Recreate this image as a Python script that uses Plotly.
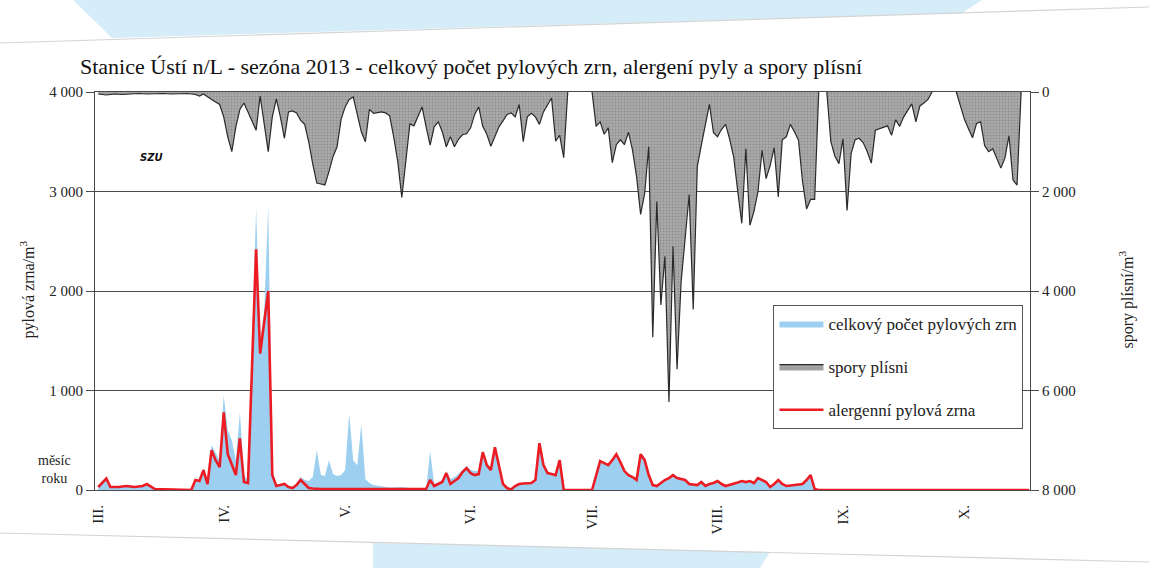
import pandas as pd
import plotly.graph_objects as go

# ---------------------------------------------------------------- data
season_start = "2013-03-01"
axis_days = (-0.8, 230.2)          # visible span, days after 1 March

month_starts = ["2013-03-01", "2013-04-01", "2013-05-01", "2013-06-01",
                "2013-07-01", "2013-08-01", "2013-09-01", "2013-10-01"]
month_labels = ["III.", "IV.", "V.", "VI.", "VII.", "VIII.", "IX.", "X."]

# pollen, days after 1 March
pollen_day = [0, 2, 3, 5, 7, 9, 11, 12, 14, 23, 24, 25, 26, 27, 28, 29, 30, 31, 32, 33,
              34, 35, 36, 37, 38, 39, 40, 41, 42, 43, 44, 45, 46, 47, 48, 49, 50, 51, 52, 53,
              54, 55, 56, 57, 58, 59, 60, 61, 62, 63, 64, 65, 66, 67, 68, 70, 72, 75, 78, 81,
              82, 83, 84, 85, 86, 87, 88, 89, 90, 91, 92, 93, 94, 95, 96, 97, 98, 99, 100, 101,
              102, 103, 104, 105, 106, 107, 108, 109, 110, 111, 112, 113, 114, 115, 122, 123, 124, 125, 126, 127,
              128, 129, 130, 131, 132, 133, 134, 135, 136, 137, 138, 139, 140, 141, 142, 143, 144, 145, 146, 147,
              148, 149, 150, 151, 152, 153, 154, 155, 156, 157, 158, 159, 160, 161, 162, 163, 164, 165, 166, 167,
              168, 169, 170, 171, 172, 173, 174, 175, 176, 177, 178, 230]
pollen_allergenic = [30, 115, 30, 30, 40, 30, 40, 60, 10, 0, 100, 90, 200, 60, 400, 300, 230, 780, 360, 260,
                     150, 520, 80, 70, 1300, 2420, 1370, 1700, 2000, 150, 40, 50, 60, 30, 20, 50, 100, 60, 20, 15,
                     10, 10, 10, 10, 10, 10, 10, 10, 10, 10, 10, 10, 10, 10, 10, 10, 10, 10, 10, 10,
                     100, 40, 60, 80, 170, 60, 90, 120, 180, 220, 170, 150, 160, 380, 250, 200, 430, 250, 60, 20,
                     5, 40, 60, 65, 65, 70, 100, 470, 250, 170, 160, 150, 300, 0, 0, 150, 290, 270, 250, 300,
                     360, 280, 190, 150, 130, 100, 360, 300, 150, 50, 40, 70, 100, 120, 150, 120, 110, 100, 60, 55,
                     50, 80, 40, 60, 70, 90, 60, 40, 50, 60, 75, 90, 80, 90, 70, 120, 100, 80, 30, 60,
                     100, 60, 40, 45, 50, 55, 60, 100, 150, 10, 0, 0]
pollen_total = [30, 120, 35, 35, 45, 35, 45, 65, 10, 0, 110, 100, 220, 80, 450, 380, 300, 950, 600, 500,
                300, 780, 150, 100, 1400, 2830, 1500, 1800, 2850, 200, 60, 55, 70, 40, 30, 70, 130, 100, 90, 130,
                400, 150, 140, 300, 160, 140, 150, 200, 770, 300, 250, 660, 110, 70, 50, 40, 25, 30, 15, 10,
                390, 60, 80, 100, 190, 110, 130, 160, 200, 240, 200, 190, 190, 400, 270, 220, 440, 260, 70, 25,
                10, 45, 65, 70, 70, 75, 110, 480, 260, 180, 170, 160, 310, 0, 0, 160, 300, 280, 260, 310,
                370, 290, 200, 160, 140, 110, 370, 310, 160, 60, 50, 80, 110, 130, 160, 130, 120, 110, 70, 60,
                55, 85, 45, 65, 75, 95, 65, 45, 55, 65, 80, 95, 85, 95, 75, 125, 105, 85, 35, 65,
                105, 65, 45, 50, 55, 60, 65, 105, 155, 10, 0, 0]

# mould spores, days after 1 March (None = no sampling)
spore_day = [0, 2, 4, 6, 8, 10, 12, 14, 16, 18, 20, 22, 24, 25, 26, 27, 28, 29, 30, 31,
             32, 33, 34, 35, 36, 37, 38, 39, 40, 41, 42, 43, 44, 45, 46, 47, 48, 49, 50, 51,
             52, 53, 54, 55, 56, 57, 58, 59, 60, 61, 62, 63, 64, 65, 66, 67, 68, 69, 70, 71,
             72, 73, 74, 75, 76, 77, 78, 79, 80, 81, 82, 83, 84, 85, 86, 87, 88, 89, 90, 91,
             92, 93, 94, 95, 96, 97, 98, 99, 100, 101, 102, 103, 104, 105, 106, 107, 108, 109, 110, 111,
             112, 113, 114, 115, 116, 117, 122, 123, 124, 125, 126, 127, 128, 129, 130, 131, 132, 133, 134, 135,
             136, 137, 138, 139, 140, 141, 142, 143, 144, 145, 146, 147, 148, 149, 150, 151, 152, 153, 154, 155,
             156, 157, 158, 159, 160, 161, 162, 163, 164, 165, 166, 167, 168, 169, 170, 171, 172, 173, 174, 175,
             176, 177, 178, 179, 180, 181, 182, 183, 184, 185, 186, 187, 188, 189, 190, 191, 192, 193, 194, 195,
             196, 197, 198, 199, 200, 201, 202, 203, 204, 205, 206, 207, 212, 213, 214, 215, 216, 217, 218, 219,
             220, 221, 222, 223, 224, 225, 226, 227, 228]
spore_count = [40, 60, 40, 50, 40, 30, 40, 30, 30, 40, 30, 30, 50, 80, 40, 100, 150, 200, 250, 500,
               900, 1200, 700, 350, 220, 400, 600, 770, 80, 600, 1200, 500, 140, 500, 930, 400, 380, 420, 570, 650,
               1000, 1450, 1830, 1850, 1870, 1600, 1300, 1100, 550, 300, 150, 100, 450, 800, 1000, 350, 430, 420, 400, 420,
               480, 900, 1400, 2120, 1400, 640, 680, 500, 300, 700, 1070, 700, 600, 800, 1100, 900, 1100, 950, 860, 840,
               720, 450, 300, 690, 850, 1090, 900, 700, 580, 450, 420, 500, 250, 1000, 500, 430, 500, 650, 400, 250,
               120, 990, 870, 1320, 0, None, 0, 690, 600, 850, 720, 1420, 1060, 960, 1060, 810, 1170, 1700, 2460, 2040,
               1100, 4930, 2200, 4280, 3300, 6230, 3100, 5570, 3820, 3000, 2060, 4370, 1500, 1070, 620, 250, 820, 900, 750, 650,
               950, 1310, 2000, 2640, 1140, 2680, 2400, 2000, 1170, 1740, 1480, 1120, 2110, 960, 900, 650, 800, 970, 1800, 2350,
               2160, 2160, 0, None, 0, 1000, 1290, 1440, 940, 2380, 1240, 960, 930, 1020, 1200, 1430, 770, 740, 710, 680,
               870, 560, 690, 500, 370, 240, 600, 280, 220, 150, 0, None, 0, 300, 550, 740, 920, 630, 600, 1080,
               1200, 1140, 1350, 1530, 1330, 880, 1770, 1870, 0]

pollen_ticks = [0, 1000, 2000, 3000, 4000]
spore_ticks = [0, 2000, 4000, 6000, 8000]

# ---------------------------------------------------------------- helpers
FONT = "Liberation Serif"
W, H = 1149, 568
M = dict(l=95, r=119, t=92, b=78)


def thousands(v):
    return f"{v:,}".replace(",", " ")


def as_dates(days):
    return pd.Timestamp(season_start) + pd.to_timedelta(days, unit="D")


def to_paper(x, y):
    """page pixel position -> paper coordinates of the plot area"""
    pw = W - M["l"] - M["r"]
    ph = H - M["t"] - M["b"]
    return (x - M["l"]) / pw, (H - M["b"] - y) / ph


def poly(points):
    pts = [to_paper(x, y) for x, y in points]
    return "M " + " L ".join(f"{px:.4f},{py:.4f}" for px, py in pts) + " Z"


pollen_x = as_dates(pollen_day)
spore_x = as_dates(spore_day)

fig = go.Figure()

fig.add_trace(go.Scatter(
    x=pollen_x, y=pollen_total, name="celkový počet pylových zrn",
    mode="lines", line=dict(width=0, color="#9dd0f0"),
    fill="tozeroy", fillcolor="#9dd0f0",
    legendgroup="a", hoverinfo="skip"))

fig.add_trace(go.Scatter(
    x=spore_x, y=spore_count, name="spory plísni", yaxis="y2",
    mode="lines", line=dict(width=1.2, color="#2a2a2a"),
    fill="tozeroy", fillcolor="#a3a3a3",
    fillpattern=dict(shape=".", bgcolor="#aaaaaa", fgcolor="#727272",
                     size=3, solidity=0.3),
    connectgaps=False, legendgroup="b", hoverinfo="skip"))

fig.add_trace(go.Scatter(
    x=pollen_x, y=pollen_allergenic, name="alergenní pylová zrna",
    mode="lines", line=dict(width=2.6, color="#ec1c24"),
    legendgroup="c", hoverinfo="skip"))

axis_col = "#4a4a4a"
tick_font = dict(family=FONT, size=15, color="#222")

fig.update_layout(
    width=W, height=H, margin=M,
    paper_bgcolor="white", plot_bgcolor="rgba(0,0,0,0)",
    font=dict(family=FONT, size=15, color="#222"),
    title=dict(text="Stanice Ústí n/L - sezóna 2013 - celkový počet pylových zrn, "
                    "alergení pyly a spory plísní",
               x=80 / W, xanchor="left", xref="container",
               y=1 - 66 / H, yanchor="middle", yref="container",
               font=dict(family=FONT, size=22, color="#111")),
    xaxis=dict(
        type="date",
        range=list(as_dates(list(axis_days))),
        tickvals=month_starts, ticktext=month_labels, tickangle=-90,
        ticks="", showgrid=False, zeroline=False,
        showline=True, linecolor=axis_col, linewidth=1, mirror=True,
        tickfont=tick_font, ticklabelstandoff=8),
    yaxis=dict(
        range=[0, 4000], tickvals=pollen_ticks,
        ticktext=[thousands(v) for v in pollen_ticks],
        showgrid=True, gridcolor=axis_col, gridwidth=1, zeroline=False,
        showline=True, linecolor=axis_col, linewidth=1,
        ticks="outside", ticklen=8, tickcolor=axis_col,
        tickfont=tick_font),
    yaxis2=dict(
        overlaying="y", side="right",
        range=[8000, 0], tickvals=spore_ticks,
        ticktext=[thousands(v) for v in spore_ticks],
        showgrid=False, zeroline=False,
        showline=True, linecolor=axis_col, linewidth=1,
        ticks="outside", ticklen=8, tickcolor=axis_col,
        tickfont=tick_font),
    legend=dict(
        x=0.993, xanchor="right", y=0.465, yanchor="top",
        bgcolor="white", bordercolor="#555", borderwidth=1,
        font=dict(family=FONT, size=17, color="#222"),
        traceorder="grouped", tracegroupgap=18,
        itemwidth=44),
    showlegend=True,
)

# axis titles and row label
lx, ly = to_paper(15, 290)
rx, ry = to_paper(1139, 300)
mx, my = to_paper(36, 488)
gx, gy = to_paper(138, 150)
fig.add_annotation(x=lx, y=ly, xref="paper", yref="paper", showarrow=False,
                   text="pylová zrna/m<sup>3</sup>", textangle=-90,
                   font=dict(family=FONT, size=16, color="#222"))
fig.add_annotation(x=rx, y=ry, xref="paper", yref="paper", showarrow=False,
                   text="spory plísní/m<sup>3</sup>", textangle=-90,
                   font=dict(family=FONT, size=16, color="#222"))
fig.add_annotation(x=mx, y=my, xref="paper", yref="paper", showarrow=False,
                   text="měsíc<br>roku", align="center",
                   font=dict(family=FONT, size=14, color="#222"))
fig.add_annotation(x=gx, y=gy, xref="paper", yref="paper", showarrow=False,
                   text="<b><i>SZU</i></b>",
                   font=dict(family="DejaVu Sans", size=10, color="#111"))

# printed page: blue bands and sheet edges
blue = "#d5ecf9"
fig.add_shape(type="path", xref="paper", yref="paper", layer="below",
              path=poly([(73, 0), (982, 0), (962, 13), (112, 38)]),
              fillcolor=blue, line=dict(width=0))
fig.add_shape(type="path", xref="paper", yref="paper", layer="below",
              path=poly([(373, 543), (770, 552), (760, 568), (373, 568)]),
              fillcolor=blue, line=dict(width=0))
for (x0, y0), (x1, y1) in [((0, 43), (W, 7)), ((0, 533), (W, 562))]:
    a0, b0 = to_paper(x0, y0)
    a1, b1 = to_paper(x1, y1)
    fig.add_shape(type="line", xref="paper", yref="paper", layer="below",
                  x0=a0, y0=b0, x1=a1, y1=b1,
                  line=dict(color="#d4d4d4", width=1.2))

fig.write_html("out.html")
